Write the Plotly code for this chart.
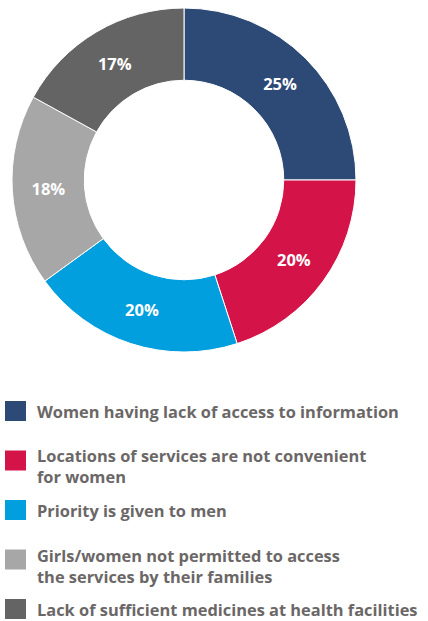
import plotly.graph_objects as go

labels = [
    "Women having lack of access to information",
    "Locations of services are not convenient<br>for women",
    "Priority is given to men",
    "Girls/women not permitted to access<br>the services by their families",
    "Lack of sufficient medicines at health facilities",
]
values = [25, 20, 20, 18, 17]
text_labels = ["25%", "20%", "20%", "18%", "17%"]
colors = ["#2D4A77", "#D41348", "#029FDE", "#A7A7A7", "#646464"]

W, H = 428, 621

def px_x(px):
    return px / W

def px_y(py):
    return 1 - py / H

fig = go.Figure()
fig.add_trace(go.Pie(
    labels=labels,
    values=values,
    text=text_labels,
    textinfo="text",
    textposition="inside",
    insidetextorientation="horizontal",
    textfont=dict(family="Open Sans", size=16.5, color="white", weight="bold"),
    marker=dict(colors=colors, line=dict(color="white", width=1)),
    hole=0.58,
    sort=False,
    direction="clockwise",
    rotation=0,
    showlegend=False,
    hoverinfo="label+percent",
    domain=dict(x=[px_x(12), px_x(356)], y=[px_y(353), px_y(7)]),
))

legend_centers = [411, 460.5, 510, 559.5, 609]
font_leg = dict(family="Open Sans", size=16.4, color="#6B6767", weight="bold")
shapes = []
annotations = []
for i, (lab, col) in enumerate(zip(labels, colors)):
    cy = legend_centers[i]
    shapes.append(dict(type="rect", xref="paper", yref="paper",
                       x0=px_x(5), x1=px_x(26), y0=px_y(cy + 10), y1=px_y(cy - 10),
                       fillcolor=col, line=dict(width=0)))
    nlines = lab.count("<br>") + 1
    if nlines > 1:
        annotations.append(dict(xref="paper", yref="paper", x=px_x(35), y=px_y(cy - 18),
                                xanchor="left", yanchor="top",
                                text=lab, showarrow=False, align="left",
                                font=font_leg))
    else:
        annotations.append(dict(xref="paper", yref="paper", x=px_x(35), y=px_y(cy),
                                xanchor="left", yanchor="middle",
                                text=lab, showarrow=False, align="left",
                                font=font_leg))

fig.update_layout(
    width=W, height=H,
    margin=dict(l=0, r=0, t=0, b=0),
    paper_bgcolor="white",
    plot_bgcolor="white",
    shapes=shapes,
    annotations=annotations,
)

fig.write_html("out.html", config={"displayModeBar": False},
               post_script="document.body.style.margin='0';")
